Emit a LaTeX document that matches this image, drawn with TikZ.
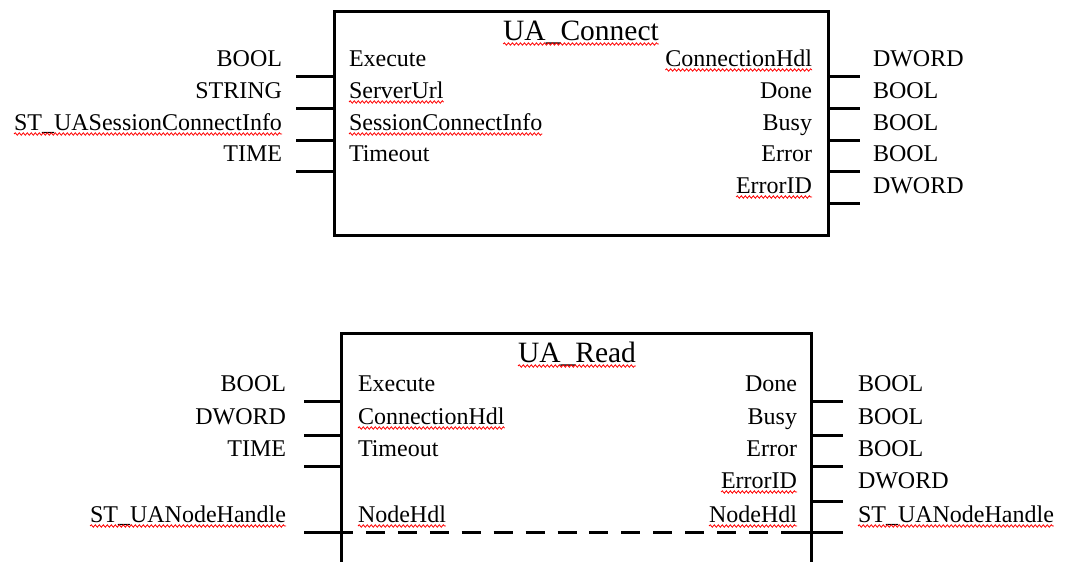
\documentclass[tikz,border=0pt]{standalone}
\usepackage{fontspec}
\setmainfont{Liberation Serif}
\usetikzlibrary{decorations.pathmorphing}
\begin{document}
\begin{tikzpicture}[x=1pt,y=-1pt,
  font=\fontsize{24}{28}\selectfont,
  fbox/.style={draw,line width=3pt,rectangle,inner sep=0pt},
  pin/.style={line width=3pt},
  dashpin/.style={line width=3pt,dash pattern=on 19pt off 12.93pt,dash phase=19pt},
  lbl/.style={inner sep=0pt,outer sep=0pt},
  lft/.style={lbl,anchor=base west},
  rgt/.style={lbl,anchor=base east},
  ttl/.style={lbl,anchor=base,font=\fontsize{29.5}{34}\selectfont},
  squiggle/.style={red,line width=0.8pt,decorate,
    decoration={snake,amplitude=1.2pt,segment length=4pt}},
]
\useasboundingbox (0,0) rectangle (1072,562);
\clip (0,0) rectangle (1072,562);

% ---------------- UA_Connect ----------------
\node[fbox,minimum width=494pt,minimum height=224pt] (conn) at (581,123) {};
\foreach \i/\y in {1/76,2/108,3/140,4/171} {
  \coordinate (ci\i) at (296,\y);
  \draw[pin] (ci\i) -- (ci\i -| conn.west);
}
\foreach \i/\y in {1/76,2/108,3/140,4/171,5/203} {
  \coordinate (co\i) at (860,\y);
  \draw[pin] (conn.east |- co\i) -- (co\i);
}

\node[ttl] (connT) at (581,40) {UA\_Connect};

\node[rgt] (cT1) at (282,66)  {BOOL};
\node[rgt] (cT2) at (282,98)  {STRING};
\node[rgt] (cT3) at (282,130) {ST\_UASessionConnectInfo};
\node[rgt] (cT4) at (282,161) {TIME};

\node[lft] (cI1) at (349,66)  {Execute};
\node[lft] (cI2) at (349,98)  {ServerUrl};
\node[lft] (cI3) at (349,130) {SessionConnectInfo};
\node[lft] (cI4) at (349,161) {Timeout};

\node[rgt] (cO1) at (812,66)  {ConnectionHdl};
\node[rgt] (cO2) at (812,98)  {Done};
\node[rgt] (cO3) at (812,130) {Busy};
\node[rgt] (cO4) at (812,161) {Error};
\node[rgt] (cO5) at (812,193) {ErrorID};

\node[lft] (cR1) at (873,66)  {DWORD};
\node[lft] (cR2) at (873,98)  {BOOL};
\node[lft] (cR3) at (873,130) {BOOL};
\node[lft] (cR4) at (873,161) {BOOL};
\node[lft] (cR5) at (873,193) {DWORD};

% ---------------- UA_Read ----------------
\node[fbox,minimum width=470pt,minimum height=300pt] (read) at (576,483) {};
\foreach \i/\y in {1/401,2/435,3/466} {
  \coordinate (ri\i) at (304,\y);
  \draw[pin] (ri\i) -- (ri\i -| read.west);
}
\foreach \i/\y in {1/401,2/435,3/466,4/501} {
  \coordinate (ro\i) at (843,\y);
  \draw[pin] (read.east |- ro\i) -- (ro\i);
}
% in/out NodeHdl passes straight through the block
\coordinate (ri4) at (304,532);
\coordinate (hdlA) at (353,532);
\coordinate (hdlB) at (800,532);
\coordinate (ro5) at (843,532);
\draw[pin] (ri4) -- (hdlA);
\draw[dashpin] (hdlA) -- (hdlB);
\draw[pin] (hdlB) -- (ro5);

\node[ttl] (readT) at (577,362) {UA\_Read};

\node[rgt] (rT1) at (286,391) {BOOL};
\node[rgt] (rT2) at (286,424) {DWORD};
\node[rgt] (rT3) at (286,456) {TIME};
\node[rgt] (rT4) at (286,522) {ST\_UANodeHandle};

\node[lft] (rI1) at (358,391) {Execute};
\node[lft] (rI2) at (358,424) {ConnectionHdl};
\node[lft] (rI3) at (358,456) {Timeout};
\node[lft] (rI4) at (358,522) {NodeHdl};

\node[rgt] (rO1) at (797,391) {Done};
\node[rgt] (rO2) at (797,424) {Busy};
\node[rgt] (rO3) at (797,456) {Error};
\node[rgt] (rO4) at (797,488) {ErrorID};
\node[rgt] (rO5) at (797,522) {NodeHdl};

\node[lft] (rR1) at (858,391) {BOOL};
\node[lft] (rR2) at (858,424) {BOOL};
\node[lft] (rR3) at (858,456) {BOOL};
\node[lft] (rR4) at (858,488) {DWORD};
\node[lft] (rR5) at (858,522) {ST\_UANodeHandle};

% spell-check underlines
\foreach \n in {connT,cT3,cI2,cI3,cO1,cO5,readT,rT4,rI2,rI4,rO4,rO5,rR5} {
  \draw[squiggle] ([yshift=-4pt]\n.base west) -- ([yshift=-4pt]\n.base east);
}
\end{tikzpicture}
\end{document}
